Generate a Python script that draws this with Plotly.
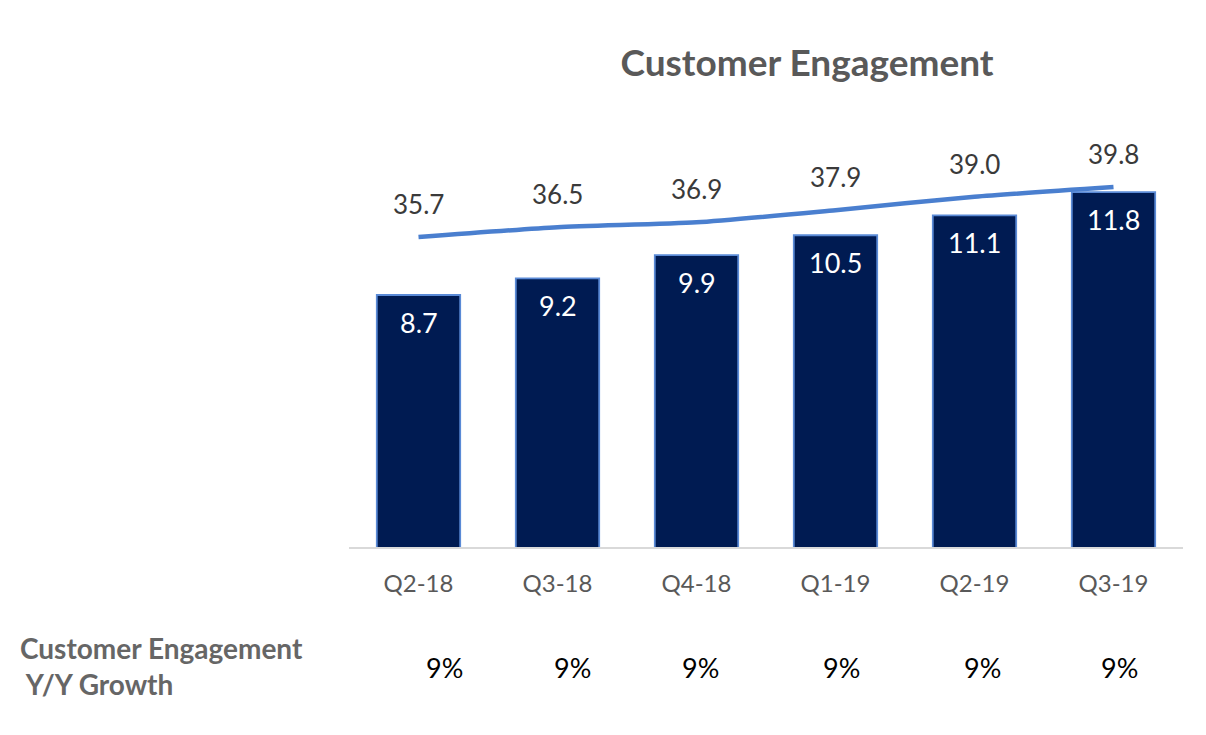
# Import libraries
import plotly.graph_objects as go


"""
Purpose of this script:
    Rebuild the quarterly customer engagement chart
    Bars show engagement values, line shows the trailing value
    Growth row sits under the axis as plain text
    Save the chart as an HTML file
"""


# Quarter labels on the x axis
QUARTERS = ["Q2-18", "Q3-18", "Q4-18", "Q1-19", "Q2-19", "Q3-19"]

# Bar values
BAR_VALUES = [8.7, 9.2, 9.9, 10.5, 11.1, 11.8]

# Line values
LINE_VALUES = [35.7, 36.5, 36.9, 37.9, 39.0, 39.8]

# Y/Y growth row
GROWTH = ["9%", "9%", "9%", "9%", "9%", "9%"]

# Colors
BAR_COLOR = "#001B52"
BAR_EDGE = "#5A8AD6"
LINE_COLOR = "#4A7FCF"
GRAY_TEXT = "#595959"
DARK_TEXT = "#3A3A3A"

FONT = "Lato"

# Page body adds an 8px margin, so the figure is a bit smaller
FIG_W = 1198
FIG_H = 727


# Build the combo chart
def create_engagement_chart():
    fig = go.Figure()

    # Dark bars
    fig.add_trace(go.Bar(
        x=QUARTERS,
        y=BAR_VALUES,
        width=0.6,
        marker=dict(color=BAR_COLOR, line=dict(color=BAR_EDGE, width=1.8)),
        hoverinfo="skip",
        showlegend=False
    ))

    # Smooth blue line on its own axis
    fig.add_trace(go.Scatter(
        x=QUARTERS,
        y=LINE_VALUES,
        yaxis="y2",
        mode="lines",
        line=dict(color=LINE_COLOR, width=4.5, shape="spline", smoothing=0.6),
        hoverinfo="skip",
        showlegend=False
    ))

    annotations = []

    # White labels inside bars
    for q, v in zip(QUARTERS, BAR_VALUES):
        annotations.append(dict(
            x=q, y=v, xref="x", yref="y",
            text=f"{v:.1f}", showarrow=False,
            yanchor="middle", yshift=-27,
            font=dict(family=FONT, size=27, color="white")
        ))

    # Gray labels above the line
    for q, v in zip(QUARTERS, LINE_VALUES):
        annotations.append(dict(
            x=q, y=v, xref="x", yref="y2",
            text=f"{v:.1f}", showarrow=False,
            yanchor="middle", yshift=33,
            font=dict(family=FONT, size=26, color=DARK_TEXT)
        ))

    # Growth row under the axis (small nudges to match the table)
    nudges = [26, 15, 4, 6, 8, 6]
    for q, g, dx in zip(QUARTERS, GROWTH, nudges):
        annotations.append(dict(
            x=q, y=-0.288, xref="x", yref="paper",
            text=g, showarrow=False, xshift=dx,
            yanchor="middle",
            font=dict(family=FONT, size=27, color="black")
        ))

    # Row title on the left
    annotations.append(dict(
        x=-0.397, y=-0.286, xref="paper", yref="paper",
        text="<b>Customer Engagement</b><br><b> Y/Y Growth</b>",
        showarrow=False, xanchor="left", yanchor="middle", align="left",
        font=dict(family=FONT, size=28, color="#666666")
    ))

    fig.update_layout(
        width=FIG_W,
        height=FIG_H,
        margin=dict(l=341, r=23, t=122, b=188),
        paper_bgcolor="white",
        plot_bgcolor="white",
        bargap=0.4,
        title=dict(
            text="<b>Customer Engagement</b>",
            x=799 / FIG_W, xanchor="center", xref="container",
            y=1 - 55 / FIG_H, yanchor="middle", yref="container",
            font=dict(family=FONT, size=37, color=GRAY_TEXT)
        ),
        xaxis=dict(
            showgrid=False,
            showline=True,
            linecolor="#D9D9D9",
            linewidth=2,
            ticks="",
            ticklabelstandoff=14,
            tickfont=dict(family=FONT, size=24, color=GRAY_TEXT)
        ),
        yaxis=dict(
            range=[1.11, 13.67],
            visible=False,
            showgrid=False
        ),
        yaxis2=dict(
            range=[10.29, 44.47],
            overlaying="y",
            visible=False,
            showgrid=False
        ),
        annotations=annotations
    )

    # Save as HTML
    fig.write_html("out.html")


# Run the function only when the file is run directly
if __name__ == "__main__":
    create_engagement_chart()
